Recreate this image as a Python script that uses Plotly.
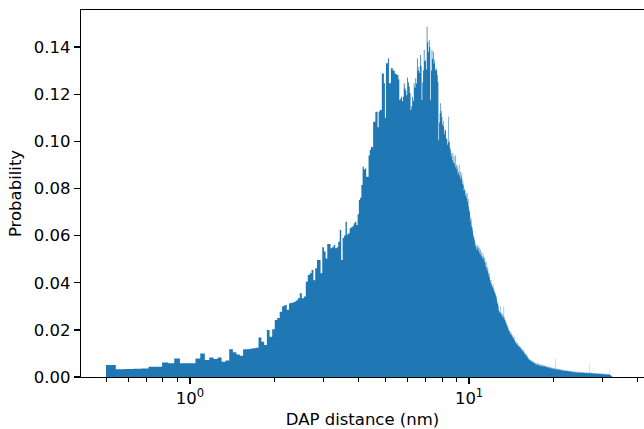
import plotly.graph_objects as go

# Histogram binning (linear bins, density normalised)
bin_start = 0.5
bin_width = 0.042

# Bin densities, bin by bin
prob_low = [
    0.0051, 0.0033, 0.0034, 0.0035, 0.0036, 0.0044, 0.0044, 0.0062, 0.0058, 0.0078,
    0.0058, 0.0058, 0.0058, 0.0078, 0.0100, 0.0072, 0.0083, 0.0076, 0.0083, 0.0065,
    0.0070, 0.0118, 0.0105, 0.0095, 0.0090, 0.0118, 0.0118, 0.0120, 0.0122, 0.0124,
    0.0168, 0.0150, 0.0136, 0.0199, 0.0171, 0.0203, 0.0242, 0.0250, 0.0277, 0.0300,
    0.0305, 0.0285, 0.0313, 0.0315, 0.0318, 0.0325, 0.0334, 0.0355, 0.0334, 0.0341,
    0.0404, 0.0433, 0.0440, 0.0454, 0.0410, 0.0461, 0.0496, 0.0496, 0.0440, 0.0550,
]
prob_rise = [
    0.0532, 0.0503, 0.0564, 0.0564, 0.0546, 0.0550, 0.0560, 0.0546, 0.0550, 0.0574,
    0.0624, 0.0496, 0.0590, 0.0600, 0.0659, 0.0605, 0.0610, 0.0631, 0.0635, 0.0640,
    0.0652, 0.0659, 0.0645, 0.0690, 0.0751, 0.0760, 0.0815, 0.0892, 0.0880, 0.0885,
    0.0850, 0.0850, 0.0940, 0.0963, 0.0977, 0.0975, 0.1083, 0.1083, 0.1125, 0.1125,
    0.1060, 0.1125, 0.1133, 0.1133, 0.1288, 0.1288, 0.1246, 0.1100, 0.1331, 0.1331,
    0.1352, 0.1246, 0.1246, 0.1310, 0.1310, 0.1300, 0.1300, 0.1288, 0.1285, 0.1281,
]
prob_peak = [
    0.1281, 0.1262, 0.1175, 0.1180, 0.1189, 0.1170, 0.1189, 0.1246, 0.1225, 0.1215,
    0.1195, 0.1271, 0.1250, 0.1232, 0.1205, 0.1133, 0.1150, 0.1189, 0.1172, 0.1246,
    0.1228, 0.1267, 0.1245, 0.1352, 0.1300, 0.1316, 0.1290, 0.1366, 0.1320, 0.1175,
    0.1250, 0.1300, 0.1387, 0.1340, 0.1345, 0.1305, 0.1486, 0.1420, 0.1380, 0.1430,
    0.1400, 0.1175, 0.1300, 0.1387, 0.1350, 0.1380, 0.1330, 0.1345, 0.1300, 0.1310,
    0.1302, 0.1280, 0.1250, 0.1006, 0.1080, 0.1120, 0.1161, 0.1130, 0.1104, 0.1070,
    0.1085, 0.1062, 0.1030, 0.1045, 0.1050, 0.1010, 0.1013, 0.0985, 0.0995, 0.1104,
    0.1000, 0.0975, 0.0963, 0.0935, 0.0950, 0.0920, 0.0950, 0.0910, 0.0935, 0.0905,
    0.0890, 0.0942, 0.0900, 0.0880, 0.0892, 0.0860, 0.0870, 0.0900, 0.0855, 0.0871,
    0.0840, 0.0850, 0.0864, 0.0820, 0.0835, 0.0815, 0.0790, 0.0800, 0.0793, 0.0770,
    0.0780, 0.0760, 0.0780, 0.0745, 0.0755, 0.0723, 0.0700, 0.0710, 0.0680, 0.0660,
    0.0670, 0.0640, 0.0620, 0.0635, 0.0605, 0.0595, 0.0580, 0.0590, 0.0570, 0.0555,
]
prob_fall = [
    0.0560, 0.0540, 0.0555, 0.0545, 0.0560, 0.0535, 0.0550, 0.0525, 0.0545, 0.0520,
    0.0540, 0.0510, 0.0530, 0.0515, 0.0505, 0.0525, 0.0500, 0.0510, 0.0490, 0.0505,
    0.0485, 0.0470, 0.0489, 0.0460, 0.0468, 0.0450, 0.0460, 0.0440, 0.0430, 0.0440,
    0.0420, 0.0412, 0.0400, 0.0410, 0.0390, 0.0398, 0.0385, 0.0380, 0.0395, 0.0370,
    0.0376, 0.0360, 0.0365, 0.0350, 0.0355, 0.0340, 0.0345, 0.0330, 0.0320, 0.0310,
    0.0315, 0.0300, 0.0284, 0.0275, 0.0280, 0.0270, 0.0300, 0.0275, 0.0265, 0.0270,
    0.0260, 0.0270, 0.0255, 0.0262, 0.0250, 0.0298, 0.0255, 0.0245, 0.0240, 0.0242,
    0.0230, 0.0235, 0.0225, 0.0221, 0.0215, 0.0210, 0.0220, 0.0205, 0.0199, 0.0195,
    0.0190, 0.0199, 0.0185, 0.0192, 0.0180, 0.0188, 0.0178, 0.0175, 0.0170, 0.0178,
    0.0165, 0.0170, 0.0160, 0.0172, 0.0158, 0.0155, 0.0150, 0.0145, 0.0152, 0.0140,
    0.0148, 0.0138, 0.0145, 0.0135, 0.0142, 0.0130, 0.0136, 0.0128, 0.0132, 0.0125,
    0.0134, 0.0122, 0.0128, 0.0118, 0.0125, 0.0115, 0.0120, 0.0112, 0.0118, 0.0108,
    0.0115, 0.0105, 0.0110, 0.0102, 0.0108, 0.0098, 0.0100, 0.0095, 0.0092, 0.0098,
    0.0088, 0.0094, 0.0085, 0.0090, 0.0082, 0.0086, 0.0079, 0.0075, 0.0078, 0.0072,
    0.0076, 0.0070, 0.0074, 0.0068, 0.0072, 0.0066, 0.0070, 0.0065, 0.0072, 0.0063,
    0.0068, 0.0062, 0.0066, 0.0060, 0.0065, 0.0058, 0.0063, 0.0057, 0.0062, 0.0056,
]
prob_tail = [
    0.0058, 0.0052, 0.0060, 0.0054, 0.0050, 0.0056, 0.0062, 0.0051, 0.0055, 0.0049,
    0.0053, 0.0057, 0.0048, 0.0052, 0.0055, 0.0047, 0.0051, 0.0056, 0.0046, 0.0050,
    0.0053, 0.0045, 0.0049, 0.0054, 0.0046, 0.0050, 0.0044, 0.0048, 0.0052, 0.0045,
    0.0047, 0.0050, 0.0043, 0.0046, 0.0049, 0.0042, 0.0045, 0.0048, 0.0041, 0.0044,
    0.0047, 0.0040, 0.0043, 0.0046, 0.0039, 0.0042, 0.0045, 0.0038, 0.0041, 0.0044,
    0.0037, 0.0040, 0.0043, 0.0036, 0.0039, 0.0042, 0.0035, 0.0038, 0.0041, 0.0036,
    0.0039, 0.0034, 0.0037, 0.0040, 0.0033, 0.0036, 0.0039, 0.0034, 0.0037, 0.0032,
    0.0035, 0.0038, 0.0033, 0.0036, 0.0034, 0.0079, 0.0035, 0.0032, 0.0036, 0.0031,
    0.0034, 0.0037, 0.0031, 0.0033, 0.0036, 0.0031, 0.0034, 0.0030, 0.0032, 0.0035,
    0.0030, 0.0033, 0.0029, 0.0031, 0.0034, 0.0029, 0.0032, 0.0028, 0.0030, 0.0033,
    0.0028, 0.0031, 0.0027, 0.0029, 0.0032, 0.0027, 0.0030, 0.0026, 0.0028, 0.0031,
    0.0027, 0.0029, 0.0026, 0.0028, 0.0030, 0.0026, 0.0028, 0.0025, 0.0027, 0.0029,
    0.0025, 0.0027, 0.0024, 0.0026, 0.0028, 0.0024, 0.0026, 0.0023, 0.0025, 0.0027,
    0.0024, 0.0026, 0.0023, 0.0025, 0.0027, 0.0023, 0.0025, 0.0022, 0.0024, 0.0026,
    0.0022, 0.0024, 0.0021, 0.0023, 0.0026, 0.0021, 0.0023, 0.0020, 0.0022, 0.0025,
    0.0021, 0.0023, 0.0020, 0.0022, 0.0024, 0.0020, 0.0022, 0.0019, 0.0021, 0.0024,
    0.0020, 0.0022, 0.0019, 0.0021, 0.0023, 0.0019, 0.0021, 0.0018, 0.0020, 0.0023,
    0.0019, 0.0021, 0.0018, 0.0020, 0.0022, 0.0018, 0.0020, 0.0018, 0.0019, 0.0022,
    0.0019, 0.0021, 0.0018, 0.0020, 0.0022, 0.0018, 0.0020, 0.0017, 0.0019, 0.0021,
    0.0018, 0.0020, 0.0017, 0.0019, 0.0021, 0.0017, 0.0019, 0.0017, 0.0018, 0.0021,
    0.0018, 0.0020, 0.0017, 0.0019, 0.0021, 0.0017, 0.0019, 0.0016, 0.0018, 0.0020,
    0.0017, 0.0019, 0.0016, 0.0018, 0.0020, 0.0016, 0.0018, 0.0016, 0.0017, 0.0020,
    0.0017, 0.0019, 0.0016, 0.0018, 0.0020, 0.0016, 0.0018, 0.0015, 0.0017, 0.0019,
    0.0016, 0.0018, 0.0058, 0.0017, 0.0019, 0.0015, 0.0017, 0.0015, 0.0016, 0.0019,
    0.0016, 0.0018, 0.0015, 0.0017, 0.0019, 0.0015, 0.0017, 0.0014, 0.0016, 0.0018,
    0.0015, 0.0017, 0.0014, 0.0016, 0.0018, 0.0014, 0.0016, 0.0014, 0.0015, 0.0018,
    0.0015, 0.0017, 0.0014, 0.0016, 0.0018, 0.0014, 0.0016, 0.0013, 0.0015, 0.0017,
    0.0014, 0.0016, 0.0013, 0.0015, 0.0017, 0.0013, 0.0015, 0.0013, 0.0014, 0.0017,
    0.0014, 0.0016, 0.0013, 0.0015, 0.0017, 0.0013, 0.0015, 0.0012, 0.0014, 0.0016,
    0.0013, 0.0015, 0.0012, 0.0014, 0.0016, 0.0012, 0.0014, 0.0012, 0.0013, 0.0016,
    0.0013, 0.0015, 0.0012, 0.0014, 0.0016, 0.0012, 0.0014, 0.0011, 0.0013, 0.0015,
    0.0012, 0.0014, 0.0011, 0.0013, 0.0015, 0.0011, 0.0013, 0.0011, 0.0012, 0.0015,
    0.0012, 0.0014, 0.0011, 0.0013, 0.0015, 0.0011, 0.0013, 0.0010, 0.0012, 0.0014,
    0.0011, 0.0013, 0.0010, 0.0012, 0.0014, 0.0010, 0.0012, 0.0010, 0.0011, 0.0014,
    0.0011, 0.0013, 0.0010, 0.0012, 0.0037, 0.0010, 0.0012, 0.0009, 0.0011, 0.0013,
    0.0009, 0.0010, 0.0008, 0.0009, 0.0007, 0.0008, 0.0006, 0.0005, 0.0006, 0.0004,
    0.0004, 0.0003, 0.0003, 0.0002, 0.0002, 0.0001, 0.0001, 0.0000, 0.0000, 0.0000,
    0.0000, 0.0000, 0.0000, 0.0000, 0.0000, 0.0000, 0.0000, 0.0000, 0.0000, 0.0000,
    0.0000, 0.0000, 0.0000, 0.0000, 0.0000, 0.0000, 0.0000, 0.0000, 0.0000, 0.0000,
    0.0000, 0.0000, 0.0000, 0.0000, 0.0000, 0.0000, 0.0000, 0.0000, 0.0000, 0.0001,
]

y_ticks = [0.00, 0.02, 0.04, 0.06, 0.08, 0.10, 0.12, 0.14]
x_major_ticks = [1, 10]
x_major_labels = ["10<sup>0</sup>", "10<sup>1</sup>"]
x_minor_ticks = [0.5, 0.6, 0.7, 0.8, 0.9, 2, 3, 4, 5, 6, 7, 8, 9, 20, 30, 40]

prob = prob_low + prob_rise + prob_peak + prob_fall + prob_tail
edges = [bin_start + bin_width * i for i in range(len(prob) + 1)]
step_y = prob + [prob[-1]]

FONT = "DejaVu Sans"
BLUE = "#1f77b4"

fig = go.Figure()
fig.add_trace(go.Scatter(
    x=edges, y=step_y, mode="lines", line=dict(shape="hv", width=0, color=BLUE),
    fill="tozeroy", fillcolor=BLUE, hoverinfo="skip", showlegend=False,
))

fig.update_layout(
    width=644, height=429,
    margin=dict(l=81, r=0, t=10, b=52),
    paper_bgcolor="white", plot_bgcolor="white",
    font=dict(family=FONT, size=16.5, color="black"),
    showlegend=False,
)
fig.update_xaxes(
    type="log", range=[-0.3907, 1.627],
    showline=True, linecolor="black", linewidth=1.3, mirror=True,
    showgrid=False, zeroline=False,
    tickmode="array", tickvals=x_major_ticks, ticktext=x_major_labels,
    ticks="outside", ticklen=6, tickwidth=1.3, tickcolor="black",
    minor=dict(tickmode="array", tickvals=x_minor_ticks, ticks="outside",
               ticklen=3.5, tickwidth=1, tickcolor="black", showgrid=False),
    title=dict(text="DAP distance (nm)", font=dict(family=FONT, size=16.5), standoff=6),
)
fig.update_yaxes(
    range=[0, 0.1557],
    showline=True, linecolor="black", linewidth=1.3, mirror=False,
    showgrid=False, zeroline=False,
    tickmode="array", tickvals=y_ticks, tickformat=".2f",
    ticks="outside", ticklen=6, tickwidth=1.3, tickcolor="black",
    title=dict(text="Probability", font=dict(family=FONT, size=16.5), standoff=8),
)

fig.write_html(
    "out.html",
    config={"displayModeBar": False, "staticPlot": True},
    post_script="document.body.style.margin='0';document.body.style.overflow='hidden';",
)
